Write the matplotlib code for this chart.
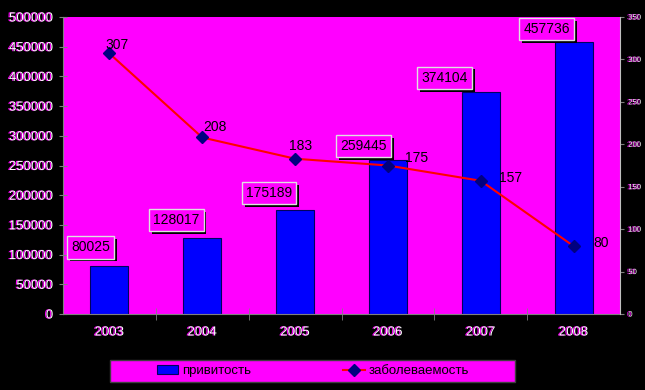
import matplotlib.pyplot as plt
import matplotlib.patheffects as pe
from matplotlib.patches import Rectangle

plt.rcParams['font.family'] = ['Liberation Sans Narrow', 'Liberation Sans', 'DejaVu Sans']

years = ['2003', '2004', '2005', '2006', '2007', '2008']
privitost = [80025, 128017, 175189, 259445, 374104, 457736]
zabol = [307, 208, 183, 175, 157, 80]

# label offsets in pixels
bar_lbl_off = [(-19, 19), (-26, 18), (-26, 17), (-24, 14), (-36, 14), (-27, 13)]
line_lbl_off = [(-4, 8), (1, 10), (-6, 13), (17, 7), (18, 3), (20, 3)]

MAG = '#FF00FF'
shadow = [pe.withSimplePatchShadow(offset=(-1, 0), shadow_rgbFace=MAG, alpha=1)]

fig = plt.figure(figsize=(6.45, 3.9), dpi=100, facecolor='black')
ax = fig.add_axes([63/645, 76/390, 557/645, 297/390])
ax.set_facecolor(MAG)

x = list(range(len(years)))
bars = ax.bar(x, privitost, width=0.41, color='#0000FF', edgecolor='#000060', linewidth=0.8, zorder=2)
ax.set_xlim(-0.5, 5.5)
ax.set_ylim(0, 500000)
ax.set_yticks(range(0, 500001, 50000))
ax.set_xticks(x)
ax.set_xticklabels(years)
ax.set_xticks([i + 0.5 for i in x[:-1]], minor=True)
ax.tick_params(axis='x', which='major', length=0, pad=9, labelsize=9.5, colors='white')
ax.tick_params(axis='x', which='minor', direction='inout', length=8, color='#808080')
ax.tick_params(axis='y', direction='inout', length=6, color='#808080', labelsize=9.5, labelcolor='white', pad=4)
for lab in ax.get_xticklabels() + ax.get_yticklabels():
    lab.set_path_effects(shadow)
for s in ['top', 'right']:
    ax.spines[s].set_visible(False)
for s in ['left', 'bottom']:
    ax.spines[s].set_color('#808080')

for xi, v, (dx, dy) in zip(x, privitost, bar_lbl_off):
    t = ax.annotate(str(v), (xi, v), xytext=(dx, dy), textcoords='offset pixels',
                    ha='center', va='center', fontsize=10, color='black', zorder=5,
                    bbox=dict(boxstyle='square,pad=0.3', facecolor=MAG, edgecolor='#E0E0E0', linewidth=1))
    t.get_bbox_patch().set_path_effects([
        pe.SimplePatchShadow(offset=(2, -2), shadow_rgbFace='black', alpha=1), pe.Normal()])

ax2 = ax.twinx()
ax2.set_ylim(0, 350)
ax2.set_yticks(range(0, 351, 50))
ax2.tick_params(axis='y', direction='out', length=3, color='#808080', labelsize=5.5,
                labelcolor='white', pad=3)
for lab in ax2.get_yticklabels():
    lab.set_path_effects(shadow)
for s in ['top', 'left', 'bottom']:
    ax2.spines[s].set_visible(False)
ax2.spines['right'].set_color('#C0C0C0')

ax2.plot(x, zabol, color='#FF0000', linewidth=1.5, marker='D', markersize=6,
         markerfacecolor='#000080', markeredgecolor='#000080', zorder=4)
for xi, v, (dx, dy) in zip(x, zabol, line_lbl_off):
    ax2.annotate(str(v), (xi, v), xytext=(dx, dy), textcoords='offset pixels',
                 ha='left', va='center', fontsize=10, color='black', zorder=5)

# legend box drawn separately so the entries can sit in the middle
fig.patches.append(Rectangle((110/645, 8/390), 405/645, 22/390, transform=fig.transFigure,
                             facecolor=MAG, edgecolor='#404040', linewidth=1, zorder=0))
h2, = ax2.plot([], [], color='#FF0000', linewidth=1.5, marker='D', markersize=6,
               markerfacecolor='#000080', markeredgecolor='#000080')
leg = fig.legend([bars, h2], ['привитость', 'заболеваемость'], loc='center', ncol=2,
                 bbox_to_anchor=(313/645, 19/390), frameon=False,
                 fontsize=9.5, handlelength=1.6, handletextpad=0.3, columnspacing=7)

fig.savefig('out.png', dpi=100, facecolor='black')
